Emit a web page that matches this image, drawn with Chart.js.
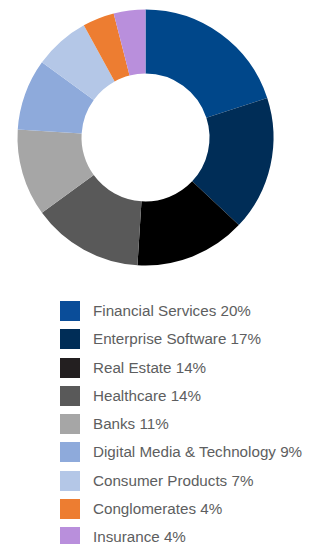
<!DOCTYPE html>
<html>
<head>
<meta charset="utf-8">
<script src="https://cdn.jsdelivr.net/npm/chart.js@4"></script>
<style>
  html, body { margin: 0; padding: 0; background: #fff; }
  #wrap { position: relative; width: 320px; height: 276px; }
  #legend { list-style: none; margin: 0; padding: 0; position: absolute; left: 60px; top: 301px; }
  #legend li { height: 28.3px; display: flex; align-items: flex-start; font-family: "Liberation Sans", Arial, sans-serif; font-size: 15.2px; color: #5d5e60; }
  #legend .box { width: 20px; height: 20px; margin-right: 13px; flex: none; }
  #legend .txt { line-height: 20px; }
</style>
</head>
<body>
<div id="wrap"><canvas id="sectorChart"></canvas></div>
<ul id="legend"></ul>
<script>
  const sectors = ['Financial Services', 'Enterprise Software', 'Real Estate', 'Healthcare', 'Banks',
    'Digital Media & Technology', 'Consumer Products', 'Conglomerates', 'Insurance'];
  const shares = [20, 17, 14, 14, 11, 9, 7, 4, 4];
  const sectorColors = ['#00478a', '#002d57', '#000000', '#595959', '#a6a6a6',
    '#8eaadb', '#b4c7e7', '#ed7d31', '#b98fdc'];
  const legendColors = ['#0a4d99', '#002d57', '#231f20', '#595959', '#a6a6a6',
    '#8eaadb', '#b4c7e7', '#ed7d31', '#b98fdc'];

  const ctx = document.getElementById('sectorChart').getContext('2d');
  const chart = new Chart(ctx, {
    type: 'doughnut',
    data: {
      labels: sectors,
      datasets: [{
        data: shares,
        backgroundColor: sectorColors,
        borderWidth: 0
      }]
    },
    options: {
      responsive: true,
      maintainAspectRatio: false,
      animation: false,
      cutout: '50%',
      layout: { padding: { left: 17.5, right: 46.5, top: 9.5, bottom: 10.5 } },
      plugins: {
        legend: { display: false },
        tooltip: { enabled: false }
      }
    }
  });

  // legend list built from the same arrays
  const legendEl = document.getElementById('legend');
  sectors.forEach((name, i) => {
    const li = document.createElement('li');
    const box = document.createElement('span');
    box.className = 'box';
    box.style.background = legendColors[i];
    const txt = document.createElement('span');
    txt.className = 'txt';
    txt.textContent = name + ' ' + chart.data.datasets[0].data[i] + '%';
    li.appendChild(box);
    li.appendChild(txt);
    legendEl.appendChild(li);
  });
</script>
</body>
</html>
